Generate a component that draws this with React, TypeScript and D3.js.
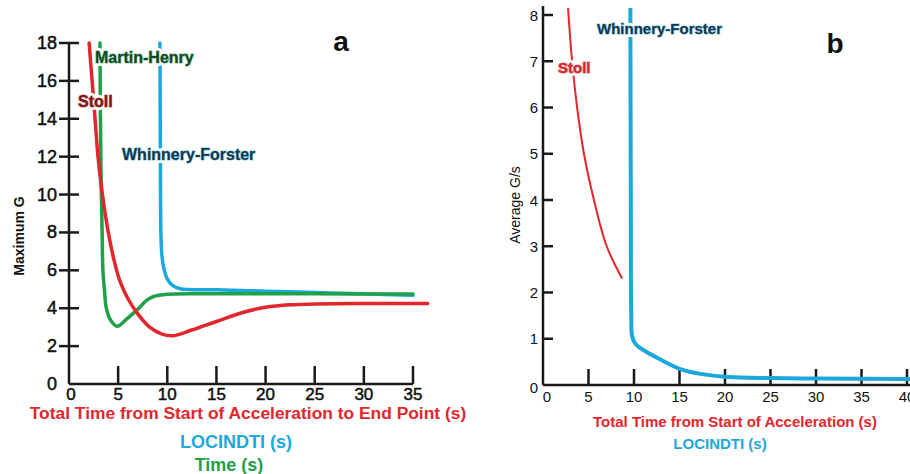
import React from 'react';
import * as d3 from 'd3';

// panel a: Maximum G vs time
const stollA: [number, number][] = [
  [2.05, 18], [2.35, 16], [2.65, 14], [2.95, 12], [3.4, 10], [4.0, 8], [4.6, 6.5], [5.2, 5.4],
  [6.0, 4.5], [7.0, 3.7], [8.2, 3.0], [9.4, 2.65], [10.6, 2.55], [12.5, 2.85], [15, 3.3],
  [17.5, 3.75], [20, 4.05], [22.5, 4.18], [25, 4.22], [30, 4.25], [36.5, 4.25],
];
const martinHenryA: [number, number][] = [
  [3.15, 18], [3.2, 14], [3.27, 10.7], [3.37, 8], [3.45, 6], [3.6, 5], [3.8, 4.0], [4.2, 3.4],
  [4.9, 3.05], [5.8, 3.4], [6.9, 3.9], [8.0, 4.45], [8.6, 4.62], [10, 4.74], [15, 4.76],
  [25, 4.76], [35, 4.75],
];
const whinneryA: [number, number][] = [
  [9.25, 18], [9.3, 12], [9.35, 8], [9.45, 6.8], [9.65, 6.1], [10.0, 5.55], [10.5, 5.22],
  [11.3, 5.03], [15, 4.97], [20, 4.9], [25, 4.83], [30, 4.76], [35, 4.68],
];

// panel b: Average G/s vs time
const stollB: [number, number][] = [
  [2.75, 8.15], [3.2, 7], [3.75, 6], [4.5, 5], [5.6, 4], [7.0, 3], [8.7, 2.3],
];
const whinneryB: [number, number][] = [
  [9.6, 8.15], [9.65, 4], [9.7, 1.5], [9.8, 1.05], [10.2, 0.88], [12.9, 0.55], [15, 0.35],
  [17.3, 0.24], [20, 0.18], [25, 0.15], [30, 0.14], [40.5, 0.13],
];

const ticksAx = [0, 5, 10, 15, 20, 25, 30, 35];
const ticksAy = [0, 2, 4, 6, 8, 10, 12, 14, 16, 18];
const ticksBx = [0, 5, 10, 15, 20, 25, 30, 35, 40];
const ticksBy = [0, 1, 2, 3, 4, 5, 6, 7, 8];

const RED = '#e2262b';
const GREEN = '#1fa049';
const BLUE = '#1ba8dd';
const FONT = '"Liberation Sans", Arial, sans-serif';

function Label({ x, y, text, fill, glow, size }: any) {
  return (
    <g fontFamily={FONT} fontWeight="bold" fontSize={size} textAnchor="start" dominantBaseline="central">
      <text x={x} y={y} fill="#fff" stroke="#fff" strokeWidth={6} strokeLinejoin="round">{text}</text>
      <text x={x} y={y} fill={fill} stroke={glow} strokeWidth={1.2} strokeOpacity={0.6} paintOrder="stroke">{text}</text>
    </g>
  );
}

export default function App() {
  // scales panel a
  const xa = d3.scaleLinear().domain([0, 35]).range([69, 413]);
  const ya = d3.scaleLinear().domain([0, 18]).range([384, 43]);
  // scales panel b
  const xb = d3.scaleLinear().domain([0, 40]).range([543, 907]);
  const yb = d3.scaleLinear().domain([0, 8]).range([385, 15]);

  const curve = d3.curveCatmullRom.alpha(0.5);
  const lineA = d3.line<[number, number]>().x((d) => xa(d[0])).y((d) => ya(d[1])).curve(curve);
  const lineB = d3.line<[number, number]>().x((d) => xb(d[0])).y((d) => yb(d[1])).curve(curve);

  return (
    <svg width={910} height={474} style={{ position: 'absolute', left: 0, top: 0, background: '#fff' }}>
      {/* ---- panel a ---- */}
      <g stroke="#1a1a1a" strokeWidth={2.5}>
        <line x1={xa(0)} x2={xa(0)} y1={ya(18)} y2={ya(0)} />
        <line x1={xa(0)} x2={xa(35)} y1={ya(0)} y2={ya(0)} />
        {ticksAy.filter((t) => t > 0).map((t) => (
          <line key={t} x1={xa(0) - 10} x2={xa(0) + 10} y1={ya(t)} y2={ya(t)} />
        ))}
        {ticksAx.filter((t) => t > 0).map((t) => (
          <line key={t} x1={xa(t)} x2={xa(t)} y1={ya(0)} y2={ya(0) - 18} />
        ))}
      </g>
      <g fontFamily={FONT} fontSize={18} fill="#111" stroke="#111" strokeWidth={0.5}>
        {ticksAy.map((t) => (
          <text key={t} x={57} y={ya(t)} textAnchor="end" dominantBaseline="central">{t}</text>
        ))}
        {ticksAx.map((t) => (
          <text key={t} x={xa(t) + (t === 0 ? 2 : 0)} y={394} fontSize={17} textAnchor="middle" dominantBaseline="central">{t}</text>
        ))}
      </g>
      <text transform={`translate(19,236) rotate(-90)`} fontFamily={FONT} fontSize={14} fontWeight="bold"
        textAnchor="middle" dominantBaseline="central" fill="#111">Maximum G</text>

      <g fill="none" strokeWidth={3.5} strokeLinecap="round">
        <path d={lineA(whinneryA) ?? ''} stroke={BLUE} />
        <path d={lineA(martinHenryA) ?? ''} stroke={GREEN} />
        <path d={lineA(stollA) ?? ''} stroke={RED} />
      </g>

      <Label x={95} y={57} text="Martin-Henry" fill="#17452a" glow={GREEN} size={16} />
      <Label x={78} y={101} text="Stoll" fill="#6e1a12" glow={RED} size={16} />
      <Label x={122} y={154} text="Whinnery-Forster" fill="#17364a" glow={BLUE} size={16} />

      <text x={341} y={41} fontFamily={FONT} fontSize={28} fontWeight="bold" textAnchor="middle"
        dominantBaseline="central" fill="#111">a</text>

      <g fontFamily={FONT} fontWeight="bold" textAnchor="middle" dominantBaseline="central">
        <text x={248} y={413} fontSize={17.4} fill={RED}>Total Time from Start of Acceleration to End Point (s)</text>
        <text x={236} y={442} fontSize={18} fill={BLUE}>LOCINDTI (s)</text>
        <text x={229} y={465} fontSize={18} fill={GREEN}>Time (s)</text>
      </g>

      {/* ---- panel b ---- */}
      <g stroke="#1a1a1a" strokeWidth={2.5}>
        <line x1={xb(0)} x2={xb(0)} y1={6} y2={yb(0)} />
        <line x1={xb(0)} x2={910} y1={yb(0)} y2={yb(0)} />
        {ticksBy.filter((t) => t > 0).map((t) => (
          <line key={t} x1={xb(0)} x2={xb(0) + 10} y1={yb(t)} y2={yb(t)} />
        ))}
        {ticksBx.filter((t) => t > 0).map((t) => (
          <line key={t} x1={xb(t)} x2={xb(t)} y1={yb(0)} y2={yb(0) - 16} />
        ))}
      </g>
      <g fontFamily={FONT} fontSize={15} fill="#111">
        {ticksBy.map((t) => (
          <text key={t} x={538} y={yb(t) + (t === 0 ? 2 : 0)} textAnchor="end" dominantBaseline="central">{t}</text>
        ))}
        {ticksBx.map((t) => (
          <text key={t} x={xb(t) + (t === 0 ? 4 : 0)} y={396} textAnchor="middle" dominantBaseline="central">{t}</text>
        ))}
      </g>
      <text transform={`translate(515,205) rotate(-90)`} fontFamily={FONT} fontSize={14}
        textAnchor="middle" dominantBaseline="central" fill="#111">Average G/s</text>

      <path d={lineB(whinneryB) ?? ''} fill="none" stroke={BLUE} strokeWidth={4} />
      <path d={lineB(stollB) ?? ''} fill="none" stroke={RED} strokeWidth={2} />

      <Label x={597} y={28} text="Whinnery-Forster" fill="#17364a" glow={BLUE} size={15} />
      <Label x={558} y={67} text="Stoll" fill="#c9302f" glow={RED} size={15} />

      <text x={835} y={43} fontFamily={FONT} fontSize={28} fontWeight="bold" textAnchor="middle"
        dominantBaseline="central" fill="#111">b</text>

      <g fontFamily={FONT} fontWeight="bold" textAnchor="middle" dominantBaseline="central">
        <text x={735} y={421} fontSize={15} fill={RED}>Total Time from Start of Acceleration (s)</text>
        <text x={720} y={443} fontSize={15} fill={BLUE}>LOCINDTI (s)</text>
      </g>
    </svg>
  );
}
